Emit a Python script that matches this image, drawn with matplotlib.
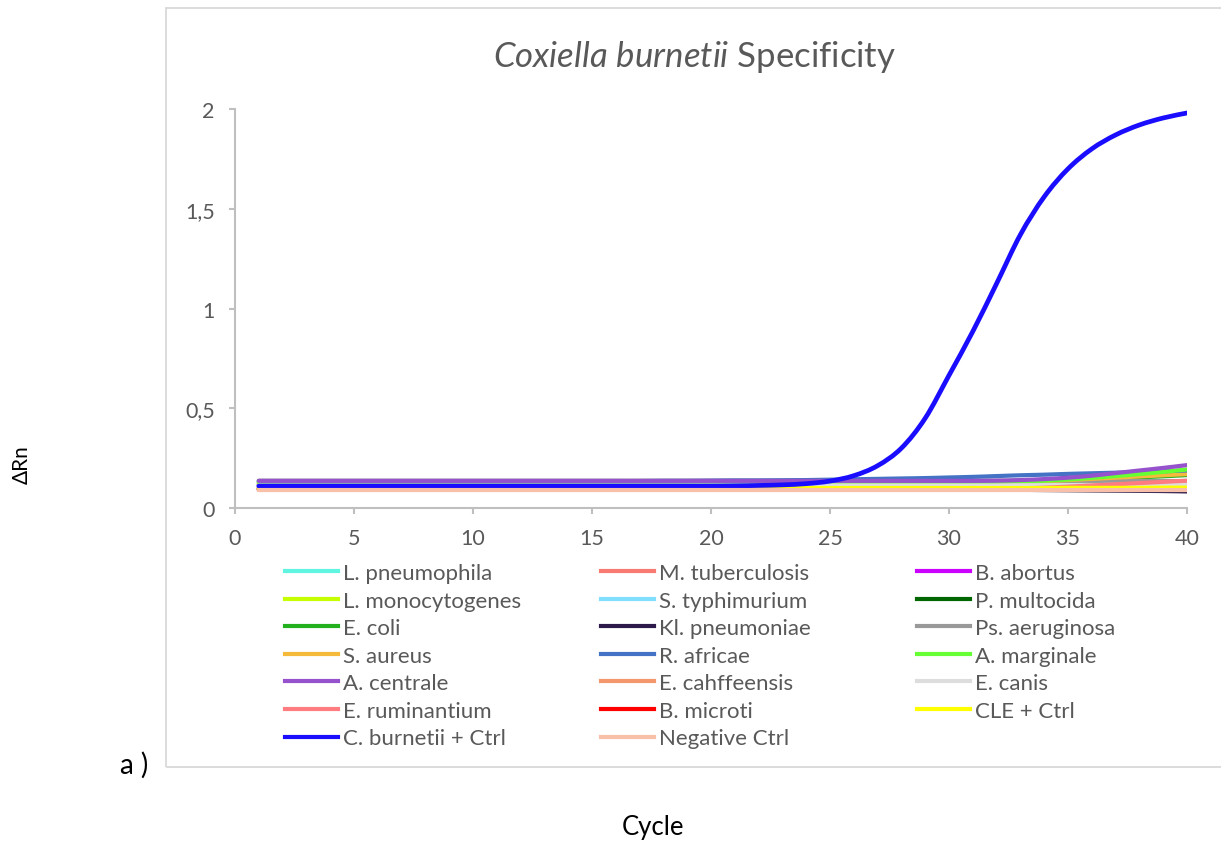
import matplotlib
matplotlib.use("Agg")
import matplotlib.pyplot as plt
from matplotlib.patches import Rectangle, PathPatch
from matplotlib.path import Path
from matplotlib.lines import Line2D

plt.rcParams['mathtext.fontset'] = 'custom'
plt.rcParams['mathtext.rm'] = 'Lato'
plt.rcParams['mathtext.it'] = 'Lato:italic'

FAM = ['Lato', 'DejaVu Sans']
GRAY_TXT = '#595959'

cycles = list(range(1, 41))

L_pneumophila = [
    0.125,0.125,0.125,0.125,0.125,0.125,0.125,0.125,0.125,0.125,
    0.125,0.125,0.125,0.125,0.125,0.125,0.125,0.125,0.125,0.125,
    0.125,0.125,0.125,0.125,0.125,0.125,0.125,0.125,0.125,0.125,
    0.125,0.125,0.126,0.126,0.127,0.127,0.128,0.128,0.129,0.129]
M_tuberculosis = [
    0.095,0.095,0.095,0.095,0.095,0.095,0.095,0.095,0.095,0.095,
    0.095,0.095,0.095,0.095,0.095,0.095,0.095,0.095,0.095,0.095,
    0.095,0.095,0.095,0.095,0.095,0.095,0.095,0.095,0.095,0.095,
    0.095,0.095,0.096,0.096,0.097,0.097,0.098,0.098,0.099,0.099]
B_abortus = [
    0.118,0.118,0.118,0.118,0.118,0.118,0.118,0.118,0.118,0.118,
    0.118,0.118,0.118,0.118,0.118,0.118,0.118,0.118,0.118,0.118,
    0.118,0.118,0.118,0.118,0.118,0.118,0.118,0.118,0.118,0.118,
    0.118,0.118,0.118,0.118,0.118,0.118,0.118,0.118,0.118,0.118]
L_monocytogenes = [
    0.120,0.120,0.120,0.120,0.120,0.120,0.120,0.120,0.120,0.120,
    0.120,0.120,0.120,0.120,0.120,0.120,0.120,0.120,0.120,0.120,
    0.120,0.120,0.120,0.120,0.120,0.120,0.120,0.120,0.120,0.120,
    0.120,0.120,0.120,0.121,0.121,0.122,0.122,0.123,0.123,0.124]
S_typhimurium = [
    0.117,0.117,0.117,0.117,0.117,0.117,0.117,0.117,0.117,0.117,
    0.117,0.117,0.117,0.117,0.117,0.117,0.117,0.117,0.117,0.117,
    0.117,0.117,0.117,0.117,0.117,0.117,0.117,0.117,0.117,0.117,
    0.117,0.117,0.117,0.117,0.117,0.117,0.117,0.117,0.117,0.117]
P_multocida = [
    0.100,0.100,0.100,0.100,0.100,0.100,0.100,0.100,0.100,0.100,
    0.100,0.100,0.100,0.100,0.100,0.100,0.100,0.100,0.100,0.100,
    0.100,0.100,0.100,0.100,0.100,0.100,0.100,0.100,0.100,0.100,
    0.100,0.100,0.100,0.100,0.100,0.100,0.100,0.100,0.100,0.100]
E_coli = [
    0.130,0.130,0.130,0.130,0.130,0.130,0.130,0.130,0.130,0.130,
    0.130,0.130,0.130,0.130,0.130,0.130,0.130,0.130,0.130,0.130,
    0.130,0.130,0.130,0.130,0.130,0.130,0.130,0.130,0.130,0.130,
    0.131,0.133,0.135,0.138,0.141,0.145,0.149,0.154,0.159,0.165]
Kl_pneumoniae = [
    0.095,0.095,0.095,0.095,0.095,0.095,0.095,0.095,0.095,0.095,
    0.095,0.095,0.095,0.095,0.095,0.095,0.095,0.095,0.095,0.095,
    0.095,0.095,0.095,0.095,0.095,0.095,0.095,0.095,0.095,0.094,
    0.093,0.092,0.091,0.090,0.089,0.088,0.087,0.086,0.085,0.083]
Ps_aeruginosa = [
    0.137,0.137,0.137,0.137,0.137,0.137,0.137,0.137,0.137,0.137,
    0.137,0.137,0.137,0.137,0.137,0.137,0.137,0.137,0.137,0.137,
    0.137,0.137,0.137,0.137,0.137,0.137,0.137,0.137,0.137,0.137,
    0.137,0.137,0.137,0.136,0.136,0.136,0.135,0.135,0.135,0.135]
S_aureus = [
    0.120,0.120,0.120,0.120,0.120,0.120,0.120,0.120,0.120,0.120,
    0.120,0.120,0.120,0.120,0.120,0.120,0.120,0.120,0.120,0.120,
    0.120,0.120,0.120,0.120,0.120,0.120,0.120,0.120,0.120,0.120,
    0.122,0.125,0.129,0.134,0.140,0.146,0.152,0.158,0.164,0.170]
R_africae = [
    0.135,0.135,0.135,0.135,0.135,0.135,0.135,0.135,0.135,0.135,
    0.135,0.135,0.135,0.135,0.135,0.135,0.135,0.136,0.136,0.137,
    0.138,0.138,0.139,0.140,0.142,0.144,0.146,0.148,0.150,0.153,
    0.156,0.160,0.164,0.167,0.171,0.174,0.177,0.180,0.184,0.188]
A_marginale = [
    0.130,0.130,0.130,0.130,0.130,0.130,0.130,0.130,0.130,0.130,
    0.130,0.130,0.130,0.130,0.130,0.130,0.130,0.130,0.130,0.130,
    0.130,0.130,0.130,0.130,0.130,0.130,0.130,0.130,0.130,0.130,
    0.130,0.131,0.133,0.137,0.143,0.151,0.160,0.170,0.181,0.193]
A_centrale = [
    0.136,0.136,0.136,0.136,0.136,0.136,0.136,0.136,0.136,0.136,
    0.136,0.136,0.136,0.136,0.136,0.136,0.136,0.136,0.136,0.136,
    0.136,0.136,0.136,0.136,0.136,0.136,0.136,0.136,0.136,0.136,
    0.136,0.137,0.140,0.145,0.152,0.162,0.175,0.188,0.201,0.215]
E_cahffeensis = [
    0.098,0.098,0.098,0.098,0.098,0.098,0.098,0.098,0.098,0.098,
    0.098,0.098,0.098,0.098,0.098,0.098,0.098,0.098,0.098,0.098,
    0.098,0.098,0.098,0.098,0.098,0.098,0.098,0.098,0.098,0.098,
    0.098,0.098,0.099,0.099,0.100,0.100,0.101,0.101,0.102,0.102]
E_canis = [
    0.113,0.113,0.113,0.113,0.113,0.113,0.113,0.113,0.113,0.113,
    0.113,0.113,0.113,0.113,0.113,0.113,0.113,0.113,0.113,0.113,
    0.113,0.113,0.113,0.113,0.113,0.113,0.113,0.113,0.113,0.113,
    0.113,0.113,0.114,0.114,0.115,0.115,0.116,0.116,0.117,0.118]
E_ruminantium = [
    0.093,0.093,0.093,0.093,0.093,0.093,0.093,0.093,0.093,0.093,
    0.093,0.093,0.093,0.093,0.093,0.093,0.093,0.093,0.093,0.093,
    0.093,0.093,0.093,0.093,0.093,0.093,0.093,0.093,0.093,0.093,
    0.093,0.095,0.098,0.102,0.107,0.113,0.119,0.125,0.131,0.137]
B_microti = [
    0.092,0.092,0.092,0.092,0.092,0.092,0.092,0.092,0.092,0.092,
    0.092,0.092,0.092,0.092,0.092,0.092,0.092,0.092,0.092,0.092,
    0.092,0.092,0.092,0.092,0.092,0.092,0.092,0.092,0.092,0.092,
    0.092,0.092,0.092,0.092,0.092,0.092,0.092,0.092,0.092,0.092]
CLE_ctrl = [
    0.100,0.100,0.100,0.100,0.100,0.100,0.100,0.100,0.100,0.100,
    0.100,0.100,0.100,0.100,0.100,0.100,0.100,0.100,0.100,0.100,
    0.100,0.100,0.100,0.100,0.100,0.100,0.100,0.100,0.100,0.100,
    0.100,0.100,0.100,0.100,0.101,0.101,0.101,0.101,0.102,0.102]
C_burnetii_ctrl = [
    0.110,0.110,0.110,0.110,0.110,0.110,0.110,0.110,0.110,0.110,
    0.110,0.110,0.110,0.110,0.110,0.110,0.110,0.110,0.110,0.110,
    0.111,0.113,0.116,0.122,0.135,0.162,0.212,0.300,0.450,0.665,
    0.885,1.125,1.370,1.560,1.700,1.800,1.870,1.920,1.955,1.980]
Negative_ctrl = [
    0.090,0.090,0.090,0.090,0.090,0.090,0.090,0.090,0.090,0.090,
    0.090,0.090,0.090,0.090,0.090,0.090,0.090,0.090,0.090,0.090,
    0.090,0.090,0.090,0.090,0.090,0.090,0.090,0.090,0.090,0.090,
    0.090,0.090,0.090,0.090,0.090,0.090,0.090,0.090,0.090,0.090]

series_names = ["L. pneumophila", "M. tuberculosis", "B. abortus",
                "L. monocytogenes", "S. typhimurium", "P. multocida",
                "E. coli", "Kl. pneumoniae", "Ps. aeruginosa",
                "S. aureus", "R. africae", "A. marginale",
                "A. centrale", "E. cahffeensis", "E. canis",
                "E. ruminantium", "B. microti", "CLE + Ctrl",
                "C. burnetii + Ctrl", "Negative Ctrl"]
series_values = [L_pneumophila, M_tuberculosis, B_abortus,
                 L_monocytogenes, S_typhimurium, P_multocida,
                 E_coli, Kl_pneumoniae, Ps_aeruginosa,
                 S_aureus, R_africae, A_marginale,
                 A_centrale, E_cahffeensis, E_canis,
                 E_ruminantium, B_microti, CLE_ctrl,
                 C_burnetii_ctrl, Negative_ctrl]
series_colors = ["#5FF5E0", "#F87A72", "#CC00FF",
                 "#C5FF00", "#80DFFF", "#006600",
                 "#22B01E", "#2B1A4A", "#999999",
                 "#F5B93B", "#4472C4", "#66FF33",
                 "#9552CC", "#F4976C", "#DDDDDD",
                 "#FF7C80", "#FF0000", "#FFFF00",
                 "#1A0DFF", "#F8C0A8"]

x_ticks = [0, 5, 10, 15, 20, 25, 30, 35, 40]
y_ticks = [0, 0.5, 1, 1.5, 2]
y_tick_labels = ["0", "0,5", "1", "1,5", "2"]


def smooth_path(xs, ys):
    """Excel-style smoothed line: cubic Bezier segments through the data points."""
    n = len(xs)
    verts = [(xs[0], ys[0])]
    codes = [Path.MOVETO]
    for i in range(n - 1):
        x0, y0 = (xs[i - 1], ys[i - 1]) if i > 0 else (xs[i], ys[i])
        x1, y1 = xs[i], ys[i]
        x2, y2 = xs[i + 1], ys[i + 1]
        x3, y3 = (xs[i + 2], ys[i + 2]) if i + 2 < n else (x2, y2)
        c1 = (x1 + (x2 - x0) / 6.0, y1 + (y2 - y0) / 6.0)
        c2 = (x2 - (x3 - x1) / 6.0, y2 - (y3 - y1) / 6.0)
        verts += [c1, c2, (x2, y2)]
        codes += [Path.CURVE4] * 3
    return Path(verts, codes)


W, H = 1221, 845
fig = plt.figure(figsize=(W/100, H/100), dpi=100)

# chart frame
fig.patches.append(Rectangle((166/W, 1-768/H), 1.0, (768-9)/H,
                             transform=fig.transFigure, fill=False,
                             ec='#D9D9D9', lw=1.3, clip_on=False))

ax = fig.add_axes([235/W, 1-509/H, (1187-235)/W, (509-110)/H])
handles = []
for name, vals, col in zip(series_names, series_values, series_colors):
    lw = 3.4 if name.startswith("C. burnetii") else 3.0
    patch = PathPatch(smooth_path(cycles, vals), fill=False, ec=col, lw=lw,
                      capstyle='round', joinstyle='round')
    ax.add_patch(patch)
    handles.append(Line2D([], [], color=col, lw=3.0))

ax.set_xlim(0, 40)
ax.set_ylim(0, 2)
ax.set_xticks(x_ticks)
ax.set_xticklabels([str(t) for t in x_ticks])
ax.set_yticks(y_ticks)
ax.set_yticklabels(y_tick_labels)
for s in ['top', 'right']:
    ax.spines[s].set_visible(False)
for s in ['left', 'bottom']:
    ax.spines[s].set_color('#BFBFBF')
    ax.spines[s].set_linewidth(1.5)
ax.tick_params(axis='both', direction='out', length=4.5, width=1.5,
               color='#BFBFBF', labelcolor=GRAY_TXT, labelsize=15.5, pad=10)
for lab in ax.get_xticklabels() + ax.get_yticklabels():
    lab.set_family(FAM)

# legend: three columns, row-major order
col_x = [285, 601, 917]
for c in range(3):
    idx = list(range(c, len(series_names), 3))
    leg = fig.legend([handles[i] for i in idx], [series_names[i] for i in idx],
                     loc='upper left', bbox_to_anchor=(col_x[c]/W, 1-564/H),
                     frameon=False, borderpad=0, borderaxespad=0,
                     handlelength=2.4, handletextpad=0.22, labelspacing=0.34,
                     prop={'family': FAM, 'size': 16})
    for t in leg.get_texts():
        t.set_color(GRAY_TXT)

fig.text(695/W, 1-57/H, r"$\mathit{Coxiella\ burnetii}$ Specificity",
         ha='center', va='center', fontsize=25, color=GRAY_TXT, family=FAM)
fig.text(22/W, 1-465/H, "ΔRn", rotation=90, ha='center', va='center',
         fontsize=15, color='black', family=FAM)
fig.text(653/W, 1-828/H, "Cycle", ha='center', va='center',
         fontsize=18.5, color='black', family=FAM)
fig.text(134/W, 1-765/H, "a )", ha='center', va='center',
         fontsize=20, color='black', family=FAM)

fig.savefig("out.png", dpi=100)
